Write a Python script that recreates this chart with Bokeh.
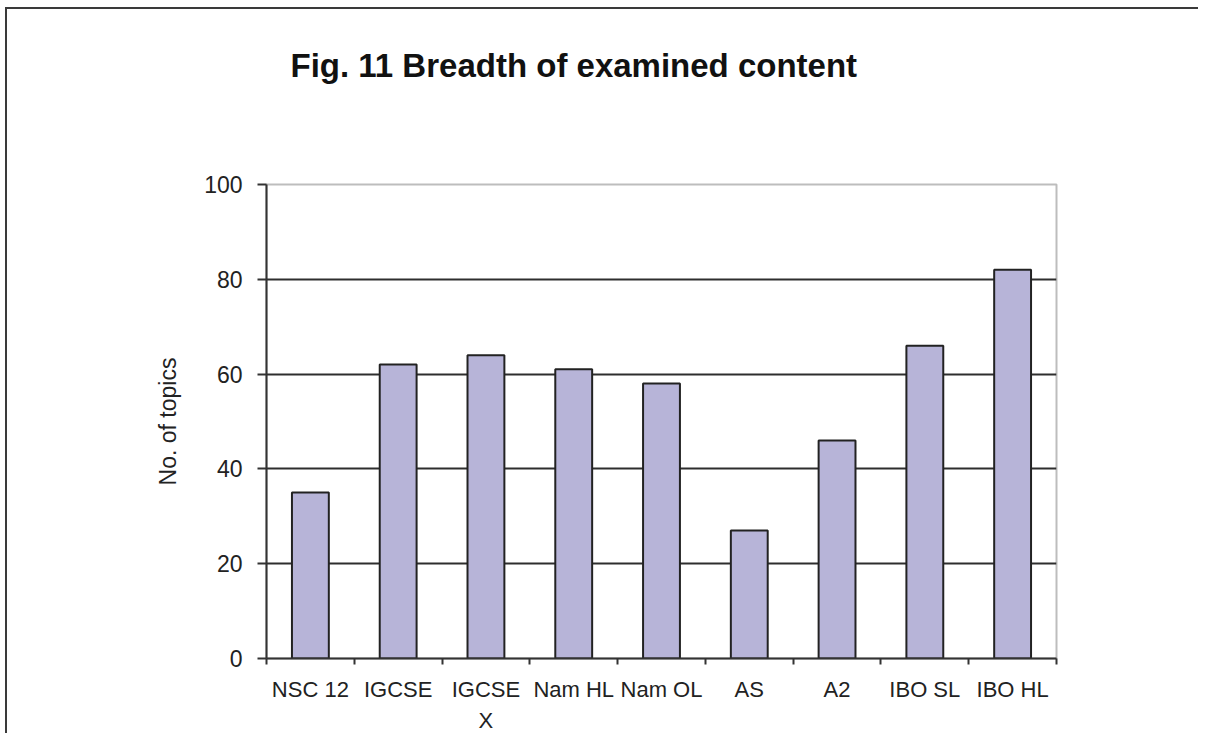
from bokeh.plotting import figure
from bokeh.models import Range1d, FixedTicker, Title
from bokeh.embed import file_html
from bokeh.resources import INLINE

# ---- data ----
categories = ["NSC 12", "IGCSE", "IGCSE\nX", "Nam HL", "Nam OL", "AS", "A2", "IBO SL", "IBO HL"]
topics = [35, 62, 64, 61, 58, 27, 46, 66, 82]
y_ticks = [0, 20, 40, 60, 80, 100]
grid_levels = [20, 40, 60, 80]
title_text = "Fig. 11 Breadth of examined content"
y_title = "No. of topics"

n = len(categories)
centers = [i + 0.5 for i in range(n)]
boundaries = list(range(n + 1))

FONT = "Liberation Sans"

p = figure(width=1193, height=726,
           x_range=Range1d(0, n), y_range=Range1d(0, y_ticks[-1]),
           output_backend="svg", toolbar_location=None,
           min_border_left=259, min_border_right=144,
           min_border_top=175, min_border_bottom=76)
p.styles = {"border-top": "2px solid #3a3a3a", "border-left": "2px solid #3a3a3a",
            "margin-left": "5px", "margin-top": "7px"}

p.background_fill_color = "white"
p.border_fill_color = "white"
p.outline_line_color = "#bdbdbd"
p.outline_line_width = 2

# empty spacer panel between the plot area and the title
spacer = Title(text=" ", text_font_size="10px", standoff=88)
p.add_layout(spacer, "above")

# title
p.title.text = title_text
p.title.align = "left"
p.title.offset = 24
p.title.standoff = 0
p.title.text_font = FONT
p.title.text_font_size = "33px"
p.title.text_font_style = "bold"
p.title.text_color = "#111111"

# bars
p.vbar(x=centers, top=topics, width=0.42, bottom=0,
       fill_color="#b7b4d8", line_color="#222222", line_width=2)

# grid
p.xgrid.visible = False
p.ygrid.ticker = FixedTicker(ticks=grid_levels)
p.ygrid.grid_line_color = "#2e2e2e"
p.ygrid.grid_line_width = 2

# x axis
xa = p.xaxis[0]
xa.ticker = FixedTicker(ticks=centers, minor_ticks=boundaries)
xa.major_label_overrides = {c: lab for c, lab in zip(centers, categories)}
xa.major_tick_out = 0
xa.major_tick_in = 0
xa.minor_tick_out = 6
xa.minor_tick_in = 0
xa.minor_tick_line_color = "#333333"
xa.minor_tick_line_width = 2
xa.axis_line_color = "#333333"
xa.axis_line_width = 2
xa.major_label_standoff = 12
xa.major_label_text_font = FONT
xa.major_label_text_font_size = "22px"
xa.major_label_text_color = "#222222"
xa.major_label_text_line_height = 1.25

# y axis
ya = p.yaxis[0]
ya.ticker = FixedTicker(ticks=y_ticks)
ya.major_tick_out = 9
ya.major_tick_in = 0
ya.minor_tick_out = 0
ya.minor_tick_in = 0
ya.major_tick_line_color = "#333333"
ya.major_tick_line_width = 2
ya.axis_line_color = "#333333"
ya.axis_line_width = 2
ya.major_label_standoff = 15
ya.major_label_text_font = FONT
ya.major_label_text_font_size = "23px"
ya.major_label_text_color = "#222222"
ya.axis_label = y_title
ya.axis_label_standoff = 20
ya.axis_label_text_font = FONT
ya.axis_label_text_font_size = "23px"
ya.axis_label_text_font_style = "normal"
ya.axis_label_text_color = "#222222"

open("out.html", "w").write(file_html(p, INLINE))
